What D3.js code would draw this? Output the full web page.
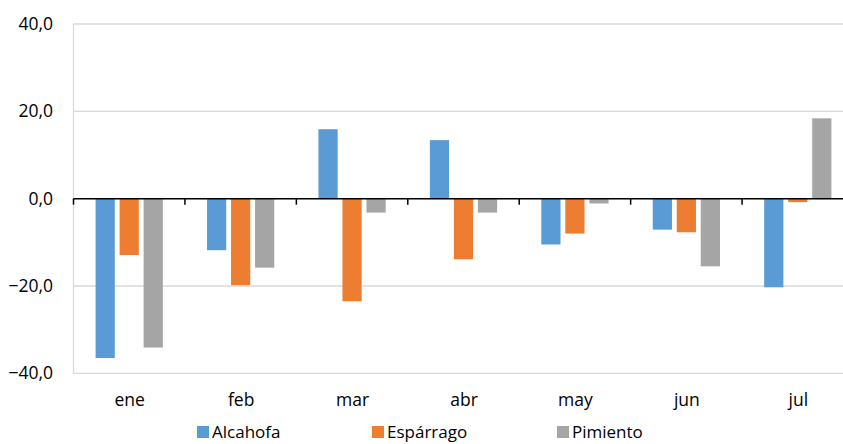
<!DOCTYPE html>
<html><head><meta charset="utf-8">
<script src="https://cdn.jsdelivr.net/npm/d3@7"></script>
<style>body{margin:0;background:#fff}svg text{font-family:"Open Sans",sans-serif;fill:#000}</style>
</head><body>
<script>
const categories = ["ene","feb","mar","abr","may","jun","jul"];
const seriesNames = ["Alcahofa","Espárrago","Pimiento"];
const alcahofa = [-36.5,-11.8,15.9,13.4,-10.5,-7.1,-20.3];
const esparrago = [-12.9,-19.8,-23.5,-13.9,-8.0,-7.7,-0.8];
const pimiento = [-34.1,-15.8,-3.2,-3.2,-1.1,-15.5,18.4];
const yTicks = [40,20,0,-20,-40];
const colors = ["#5b9bd5","#ed7d31","#a5a5a5"];
const seriesValues = [alcahofa, esparrago, pimiento];

const W = 843, H = 444;
const svg = d3.select("body").append("svg").attr("width", W).attr("height", H);
const pLeft = 73.5, pRight = 853.5, pTop = 24, pBottom = 373.3;
const y = d3.scaleLinear().domain([-40,40]).range([pBottom, pTop]);
const x = d3.scaleBand().domain(categories).range([pLeft, pRight]).paddingInner(0).paddingOuter(0);
const inner = d3.scaleBand().domain(seriesNames).range([0, x.bandwidth()]).paddingInner(0.2).paddingOuter(0.92);
const fs = 17.5;

// gridlines
svg.append("g").selectAll("line").data(yTicks).join("line")
  .attr("x1", pLeft).attr("x2", W).attr("y1", d => y(d)).attr("y2", d => y(d))
  .attr("stroke", "#d9d9d9").attr("stroke-width", 1.3);
svg.append("line").attr("x1", pLeft).attr("x2", pLeft).attr("y1", pTop).attr("y2", pBottom)
  .attr("stroke", "#d9d9d9").attr("stroke-width", 1.3);

// y labels
svg.append("g").selectAll("text").data(yTicks).join("text")
  .attr("x", 53).attr("y", d => y(d)).attr("dy", "0.35em").attr("text-anchor", "end")
  .attr("font-size", fs).text(d => d3.format(".1f")(d).replace(".", ","));

// bars
seriesNames.forEach((s, si) => {
  svg.append("g").selectAll("rect").data(categories).join("rect")
    .attr("x", c => x(c) + inner(s))
    .attr("width", inner.bandwidth())
    .attr("y", (c, i) => y(Math.max(0, seriesValues[si][i])))
    .attr("height", (c, i) => Math.abs(y(seriesValues[si][i]) - y(0)))
    .attr("fill", colors[si]);
});

// zero axis with ticks
svg.append("line").attr("x1", pLeft).attr("x2", W).attr("y1", y(0)).attr("y2", y(0))
  .attr("stroke", "#000").attr("stroke-width", 1.5);
const bounds = categories.map(c => x(c)).concat([pRight]);
svg.append("g").selectAll("line").data(bounds).join("line")
  .attr("x1", d => d).attr("x2", d => d).attr("y1", y(0)).attr("y2", y(0) + 6)
  .attr("stroke", "#000").attr("stroke-width", 1.5);

// category labels
svg.append("g").selectAll("text").data(categories).join("text")
  .attr("x", c => x(c) + x.bandwidth()/2 + 0.5).attr("y", 400).attr("dy", "0.35em")
  .attr("text-anchor", "middle").attr("font-size", fs).text(c => c);

// legend
const legX = [197, 372, 557];
const lg = svg.append("g").selectAll("g").data(seriesNames).join("g")
  .attr("transform", (d, i) => `translate(${legX[i]},426)`);
lg.append("rect").attr("width", 12).attr("height", 12).attr("fill", (d, i) => colors[i]);
lg.append("text").attr("x", 15).attr("y", 12).attr("font-size", 17).text(d => d);
</script>
</body></html>
